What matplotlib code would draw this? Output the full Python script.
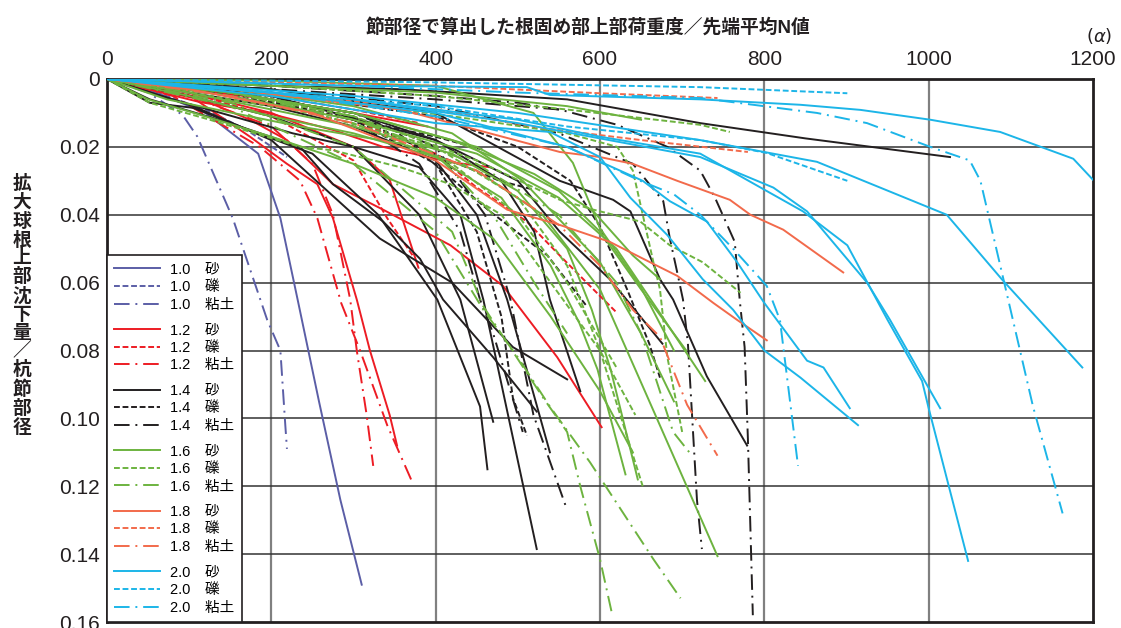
import matplotlib
matplotlib.use('Agg')
import matplotlib.pyplot as plt
from matplotlib.lines import Line2D

plt.rcParams['font.family'] = ['Liberation Sans', 'Noto Sans CJK JP']

# ---- data: each curve is (alpha values, settlement ratio) ----
# pile nodal diameter 1.0
d10_sand = [([0, 60, 120, 184, 211, 232, 258, 284, 310],
             [0, 0.004, 0.010, 0.022, 0.041, 0.065, 0.095, 0.124, 0.149])]
d10_grav = [([0, 60, 120, 170, 219], [0, 0.004, 0.009, 0.015, 0.023])]
d10_clay = [([0, 50, 92, 110, 153, 195, 211, 217, 219],
             [0, 0.004, 0.0106, 0.017, 0.041, 0.071, 0.080, 0.102, 0.109])]

# 1.2
d12_sand = [
    ([0, 105, 174, 219, 256, 275, 304, 320, 344, 353],
     [0, 0.0056, 0.017, 0.025, 0.031, 0.041, 0.065, 0.080, 0.099, 0.108]),
    ([0, 100, 200, 300, 344, 379], [0, 0.004, 0.010, 0.020, 0.0297, 0.0556]),
    ([0, 105, 174, 219, 275, 336, 418, 482, 548, 602],
     [0, 0.005, 0.012, 0.018, 0.031, 0.0385, 0.049, 0.061, 0.082, 0.1026]),
    ([0, 113, 195, 275, 336, 418, 466], [0, 0.0068, 0.010, 0.015, 0.020, 0.0245, 0.026]),
    ([0, 100, 200, 300, 390], [0, 0.003, 0.006, 0.010, 0.014]),
]
d12_grav = [
    ([0, 100, 200, 300, 341, 372], [0, 0.004, 0.011, 0.024, 0.041, 0.052]),
    ([0, 150, 300, 400, 450, 511, 551, 592, 621],
     [0, 0.004, 0.012, 0.022, 0.032, 0.042, 0.052, 0.062, 0.069]),
    ([0, 100, 200, 300, 380], [0, 0.002, 0.005, 0.009, 0.013]),
]
d12_clay = [
    ([0, 80, 186, 235, 256, 285, 308, 341, 371],
     [0, 0.005, 0.020, 0.030, 0.041, 0.066, 0.080, 0.102, 0.1185]),
    ([0, 100, 200, 250, 275, 296, 304, 316, 324],
     [0, 0.005, 0.014, 0.025, 0.040, 0.065, 0.080, 0.099, 0.114]),
]

# 1.4
d14_sand = [
    ([0, 200, 357, 560, 722, 850, 1026], [0, 0.002, 0.003, 0.006, 0.013, 0.0175, 0.023]),
    ([0, 200, 400, 551, 616, 637, 673, 689, 730, 779],
     [0, 0.003, 0.010, 0.030, 0.0356, 0.039, 0.059, 0.065, 0.0876, 0.108]),
    ([0, 200, 400, 500, 551, 612, 676], [0, 0.005, 0.018, 0.030, 0.045, 0.059, 0.078]),
    ([0, 52, 150, 250, 330, 402, 454, 463], [0, 0.006, 0.013, 0.022, 0.040, 0.065, 0.0965, 0.115]),
    ([0, 100, 200, 300, 380, 430, 470], [0, 0.005, 0.011, 0.020, 0.040, 0.065, 0.101]),
    ([0, 52, 105, 162, 235, 275, 336, 381, 409, 470, 523],
     [0, 0.007, 0.0085, 0.014, 0.020, 0.031, 0.042, 0.053, 0.065, 0.082, 0.098]),
    ([0, 80, 153, 226, 300, 380, 430, 458, 523],
     [0, 0.006, 0.011, 0.016, 0.020, 0.026, 0.040, 0.065, 0.1385]),
    ([0, 100, 200, 300, 400, 450, 487, 539], [0, 0.004, 0.008, 0.014, 0.024, 0.040, 0.065, 0.110]),
    ([0, 150, 300, 400, 480, 520, 539, 576], [0, 0.004, 0.010, 0.018, 0.030, 0.045, 0.065, 0.092]),
    ([0, 105, 200, 332, 420, 494, 560], [0, 0.008, 0.018, 0.047, 0.060, 0.079, 0.0885]),
]
d14_grav = [
    ([0, 200, 400, 500, 564, 600, 633, 660, 673],
     [0, 0.004, 0.011, 0.020, 0.030, 0.0435, 0.062, 0.078, 0.088]),
    ([0, 150, 300, 400, 450, 480, 494, 511], [0, 0.004, 0.012, 0.025, 0.045, 0.070, 0.094, 0.105]),
    ([0, 200, 350, 466, 536, 584], [0, 0.005, 0.015, 0.039, 0.052, 0.067]),
    ([0, 150, 300, 397, 478, 519], [0, 0.004, 0.011, 0.022, 0.030, 0.0326]),
    ([0, 100, 200, 300, 400, 460], [0, 0.003, 0.007, 0.012, 0.017, 0.021]),
]
d14_clay = [
    ([0, 200, 400, 551, 621, 682, 722, 740, 764, 770, 776, 780, 786],
     [0, 0.003, 0.006, 0.009, 0.0135, 0.020, 0.027, 0.035, 0.048, 0.065, 0.079, 0.106, 0.158]),
    ([0, 200, 400, 550, 640, 677, 685, 694, 701, 707, 718, 724],
     [0, 0.003, 0.008, 0.016, 0.025, 0.036, 0.047, 0.057, 0.065, 0.078, 0.124, 0.1385]),
    ([0, 150, 300, 380, 430, 454, 470, 506], [0, 0.005, 0.012, 0.025, 0.045, 0.065, 0.075, 0.104]),
    ([0, 150, 300, 400, 460, 491, 519, 560], [0, 0.004, 0.010, 0.020, 0.040, 0.065, 0.099, 0.127]),
    ([0, 200, 400, 500, 550], [0, 0.002, 0.005, 0.007, 0.009]),
]

# 1.6
d16_sand = [
    ([0, 73, 153, 235, 357, 450, 530, 600, 643, 743],
     [0, 0.006, 0.010, 0.014, 0.019, 0.027, 0.040, 0.062, 0.0856, 0.1406]),
    ([0, 100, 200, 300, 400, 480, 540, 575, 597, 631],
     [0, 0.005, 0.011, 0.016, 0.023, 0.035, 0.055, 0.072, 0.0856, 0.1165]),
    ([0, 100, 200, 300, 420, 500, 560, 590, 613, 646],
     [0, 0.004, 0.009, 0.014, 0.022, 0.033, 0.050, 0.068, 0.0856, 0.118]),
    ([0, 150, 300, 450, 550, 620, 673, 728], [0, 0.005, 0.012, 0.022, 0.035, 0.050, 0.069, 0.089]),
    ([0, 150, 300, 450, 550, 600, 650, 705], [0, 0.004, 0.010, 0.020, 0.033, 0.045, 0.062, 0.080]),
    ([0, 150, 300, 420, 520, 560, 592, 640, 673],
     [0, 0.004, 0.010, 0.018, 0.028, 0.034, 0.039, 0.052, 0.059]),
    ([0, 150, 300, 420, 506, 600, 650, 690], [0, 0.003, 0.008, 0.016, 0.030, 0.054, 0.075, 0.095]),
    ([0, 50, 120, 200, 300, 400, 470, 540, 600, 640],
     [0, 0.006, 0.011, 0.017, 0.025, 0.035, 0.047, 0.070, 0.092, 0.110]),
    ([0, 200, 400, 519, 567, 600, 649, 690], [0, 0.0005, 0.002, 0.010, 0.0247, 0.044, 0.061, 0.080]),
    ([0, 200, 400, 560, 650], [0, 0.002, 0.004, 0.008, 0.012]),
]
d16_grav = [
    ([0, 52, 125, 235, 275, 357, 418, 480, 540, 600, 643],
     [0, 0.007, 0.012, 0.020, 0.021, 0.026, 0.031, 0.040, 0.060, 0.080, 0.099]),
    ([0, 100, 250, 400, 500, 560, 600, 652], [0, 0.004, 0.010, 0.020, 0.035, 0.055, 0.080, 0.120]),
    ([0, 150, 300, 450, 560, 621, 640, 665, 673, 682, 700],
     [0, 0.003, 0.007, 0.012, 0.016, 0.020, 0.027, 0.054, 0.062, 0.082, 0.104]),
    ([0, 150, 300, 450, 551, 592, 649, 685, 725, 771],
     [0, 0.004, 0.011, 0.024, 0.0356, 0.0385, 0.042, 0.049, 0.054, 0.063]),
    ([0, 200, 400, 560, 722, 758], [0, 0.002, 0.005, 0.009, 0.0135, 0.0156]),
    ([0, 150, 300, 420, 500, 560, 620], [0, 0.005, 0.013, 0.025, 0.040, 0.060, 0.085]),
]
d16_clay = [
    ([0, 150, 300, 400, 458, 500, 539, 588, 665, 698],
     [0, 0.008, 0.025, 0.045, 0.068, 0.082, 0.0965, 0.113, 0.1415, 0.153]),
    ([0, 150, 300, 420, 458, 531, 560, 576, 600, 615],
     [0, 0.007, 0.020, 0.045, 0.067, 0.094, 0.104, 0.120, 0.1415, 0.158]),
    ([0, 150, 300, 450, 550, 620, 650, 689, 712],
     [0, 0.004, 0.012, 0.025, 0.040, 0.060, 0.075, 0.104, 0.111]),
    ([0, 150, 300, 400, 470, 520, 560], [0, 0.004, 0.011, 0.022, 0.040, 0.060, 0.075]),
]

# 1.8
d18_sand = [
    ([0, 150, 357, 551, 600, 640, 694, 758, 783, 823, 896],
     [0, 0.003, 0.009, 0.0215, 0.023, 0.025, 0.030, 0.0356, 0.040, 0.0444, 0.057]),
    ([0, 100, 250, 400, 487, 551, 612, 661, 694, 738, 767, 803],
     [0, 0.003, 0.010, 0.024, 0.0385, 0.043, 0.048, 0.054, 0.058, 0.066, 0.071, 0.077]),
]
d18_grav = [
    ([0, 200, 400, 600, 743], [0, 0.001, 0.002, 0.0042, 0.0056]),
    ([0, 200, 400, 531, 650, 780], [0, 0.004, 0.009, 0.0145, 0.018, 0.0215]),
]
d18_clay = [
    ([0, 150, 300, 450, 550, 600, 640, 673, 706, 743],
     [0, 0.005, 0.013, 0.027, 0.043, 0.055, 0.068, 0.076, 0.096, 0.111]),
]

# 2.0
d20_sand = [
    ([0, 300, 511, 539, 722, 844, 917, 1002, 1087, 1176, 1200],
     [0, 0.002, 0.0024, 0.0047, 0.006, 0.0076, 0.0091, 0.012, 0.0156, 0.0235, 0.0297]),
    ([0, 300, 500, 722, 864, 1022, 1089, 1187], [0, 0.005, 0.010, 0.018, 0.0244, 0.040, 0.059, 0.085]),
    ([0, 300, 500, 600, 722, 847, 901, 950, 992, 1000, 1048],
     [0, 0.006, 0.012, 0.017, 0.022, 0.039, 0.049, 0.071, 0.089, 0.097, 0.142]),
    ([0, 300, 500, 722, 811, 852, 925, 953, 1014],
     [0, 0.006, 0.013, 0.023, 0.032, 0.039, 0.060, 0.071, 0.097]),
    ([0, 200, 400, 539, 600, 637, 682, 725, 762, 800, 844, 914],
     [0, 0.005, 0.013, 0.0156, 0.023, 0.035, 0.046, 0.059, 0.068, 0.080, 0.088, 0.102]),
    ([0, 200, 400, 560, 652, 685, 730, 767, 800, 852, 872, 904],
     [0, 0.004, 0.010, 0.020, 0.030, 0.036, 0.042, 0.054, 0.066, 0.083, 0.085, 0.097]),
]
d20_grav = [
    ([0, 50, 200, 400, 722, 901], [0, 0.0003, 0.0005, 0.001, 0.0024, 0.0042]),
    ([0, 200, 400, 560, 722, 803, 901], [0, 0.004, 0.008, 0.014, 0.018, 0.0218, 0.030]),
]
d20_clay = [
    ([0, 300, 500, 722, 864, 925, 1002, 1050, 1063, 1091, 1127, 1163],
     [0, 0.002, 0.004, 0.0056, 0.010, 0.013, 0.020, 0.024, 0.030, 0.059, 0.0965, 0.128]),
    ([0, 200, 400, 560, 649, 690, 722, 762, 803, 819, 841],
     [0, 0.004, 0.011, 0.020, 0.030, 0.034, 0.040, 0.050, 0.061, 0.071, 0.114]),
]

sizes = ['1.0', '1.2', '1.4', '1.6', '1.8', '2.0']
colors = ['#5b5ea6', '#ed1c24', '#231f20', '#6db33f', '#f26a4b', '#1cb5e8']
soils = ['砂', '礫', '粘土']
curves = [
    (d10_sand, d10_grav, d10_clay),
    (d12_sand, d12_grav, d12_clay),
    (d14_sand, d14_grav, d14_clay),
    (d16_sand, d16_grav, d16_clay),
    (d18_sand, d18_grav, d18_clay),
    (d20_sand, d20_grav, d20_clay),
]

xticks = [0, 200, 400, 600, 800, 1000, 1200]
yticks = [0, 0.02, 0.04, 0.06, 0.08, 0.10, 0.12, 0.14, 0.16]
ytick_labels = ['0', '0.02', '0.04', '0.06', '0.08', '0.10', '0.12', '0.14', '0.16']

styles = ['-', (0, (3, 1.4)), (0, (8, 3, 1, 3))]
lw = 1.4

fig = plt.figure(figsize=(11.21, 6.28), dpi=100)
ax = fig.add_axes([107 / 1121, 6 / 628, 986 / 1121, 543 / 628])

for size, color, group in zip(sizes, colors, curves):
    for ls, lines in zip(styles, group):
        for xs, ys in lines:
            ax.plot(xs, ys, color=color, lw=lw, linestyle=ls, zorder=3)

ax.set_xlim(0, 1200)
ax.set_ylim(0.16, 0)
ax.xaxis.tick_top()
ax.set_xticks(xticks)
ax.set_yticks(yticks)
ax.set_yticklabels(ytick_labels)
ax.tick_params(axis='both', length=0, labelsize=15, colors='#231f20')
ax.tick_params(axis='x', pad=7)
ax.tick_params(axis='y', pad=5)

for v in xticks[1:-1]:
    ax.axvline(v, color='#808080', lw=1.6, zorder=1)
for v in yticks[1:-1]:
    ax.axhline(v, color='#333333', lw=1.1, zorder=1)
for s in ax.spines.values():
    s.set_linewidth(2.0)
    s.set_color('#231f20')

# legend with a small gap between diameter groups
handles, labels = [], []
for i, (size, color) in enumerate(zip(sizes, colors)):
    if i > 0:
        handles.append(Line2D([], [], linestyle='none'))
        labels.append(' ')
    for soil, ls in zip(soils, styles):
        handles.append(Line2D([], [], color=color, lw=lw, linestyle=ls))
        labels.append(f'{size}\u3000{soil}')

leg = ax.legend(handles, labels, loc='lower left', bbox_to_anchor=(0, 0),
                borderaxespad=0, fontsize=10.5, handlelength=3.1,
                handletextpad=0.75, labelspacing=0.25, borderpad=0.5,
                fancybox=False, framealpha=1, edgecolor='#231f20')
leg.get_frame().set_linewidth(1.2)
leg.set_zorder(10)
for t, lab in zip(leg.get_texts(), labels):
    if lab == ' ':
        t.set_fontsize(3)
# shrink the handle box of the spacer rows
try:
    for col in leg._legend_handle_box.get_children():
        for row in col.get_children():
            da, ta = row.get_children()
            if ta.get_text() == ' ':
                da.height = 0
                da.ydescent = 0
except Exception:
    pass

fig.text(588 / 1121, 1 - 27 / 628, '節部径で算出した根固め部上部荷重度／先端平均N値',
         ha='center', va='center', fontsize=13.5, fontweight='bold', color='#231f20')
fig.text(1099 / 1121, 1 - 36 / 628, r'$(\alpha)$', ha='center', va='center',
         fontsize=13, color='#231f20')
fig.text(22 / 1121, 1 - 306 / 628, '\n'.join('拡大球根上部沈下量／杭節部径'),
         ha='center', va='center', fontsize=13.5, fontweight='bold', color='#231f20',
         linespacing=1.07)

fig.savefig('out.png', dpi=100)
